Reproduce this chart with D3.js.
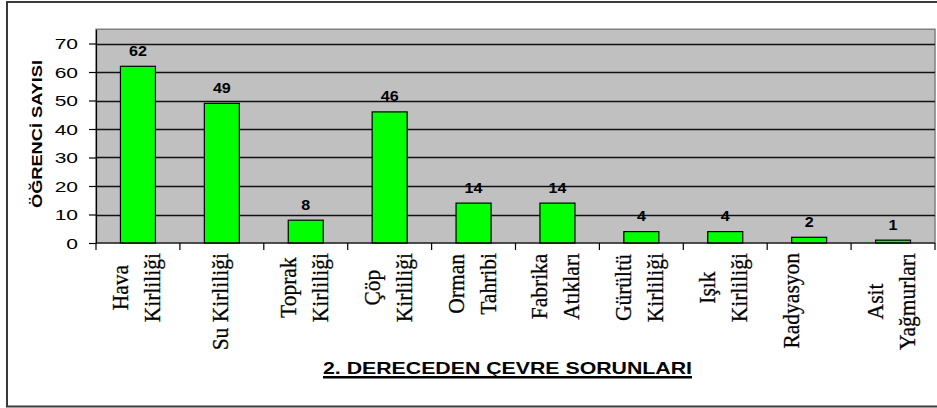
<!DOCTYPE html>
<html>
<head>
<meta charset="utf-8">
<script src="https://cdn.jsdelivr.net/npm/d3@7.9.0/dist/d3.min.js"></script>
<style>
  html, body { margin: 0; padding: 0; background: #fff; }
  svg { display: block; }
</style>
</head>
<body>
<div id="chart"></div>
<script>
// categories (each entry of labelLines is the list of lines of the rotated label)
const categories = ["Hava Kirliliği", "Su Kirliliği", "Toprak Kirliliği", "Çöp Kirliliği", "Orman Tahribi",
    "Fabrika Atıkları", "Gürültü Kirliliği", "Işık Kirliliği", "Radyasyon", "Asit Yağmurları"];
const labelLines = [["Hava", "Kirliliği"], ["Su Kirliliği"], ["Toprak", "Kirliliği"], ["Çöp", "Kirliliği"],
    ["Orman", "Tahribi"], ["Fabrika", "Atıkları"], ["Gürültü", "Kirliliği"], ["Işık", "Kirliliği"],
    ["Radyasyon", ""], ["Asit", "Yağmurları"]];
const values = [62, 49, 8, 46, 14, 14, 4, 4, 2, 1];
const yTicks = [0, 10, 20, 30, 40, 50, 60, 70];
const yTitle = "ÖĞRENCİ SAYISI";
const xTitle = "2. DERECEDEN ÇEVRE SORUNLARI";

const width = 937;
const height = 408;
const plot = { left: 96, right: 935, top: 29.25, bottom: 243 };
const sans = "'Liberation Sans', Arial, sans-serif";
const serif = "'Liberation Serif', 'Times New Roman', serif";

const svg = d3.select("#chart")
    .append("svg")
    .attr("width", width)
    .attr("height", height);

// chart area frame (right side is cut off in the reference)
svg.append("rect")
    .attr("x", 7).attr("y", 2)
    .attr("width", 960).attr("height", 404.5)
    .attr("fill", "#fff")
    .attr("stroke", "#3a3a3a")
    .attr("stroke-width", 2);

// scales
const x = d3.scaleBand()
    .domain(categories)
    .range([plot.left, plot.right])
    .padding(0);

const y = d3.scaleLinear()
    .domain([0, 75])
    .range([plot.bottom, plot.top]);

// plot background
svg.append("rect")
    .attr("x", plot.left).attr("y", plot.top)
    .attr("width", plot.right - plot.left).attr("height", plot.bottom - plot.top)
    .attr("fill", "#c0c0c0")
    .attr("stroke", "#808080")
    .attr("stroke-width", 1.5);

// gridlines
svg.append("g")
    .selectAll("line")
    .data(yTicks.filter(d => d > 0))
    .join("line")
    .attr("x1", plot.left).attr("x2", plot.right)
    .attr("y1", d => Math.round(y(d)) + 0.5)
    .attr("y2", d => Math.round(y(d)) + 0.5)
    .attr("stroke", "#111")
    .attr("stroke-width", 1.3);

// bars
const barW = 35;
svg.append("g")
    .selectAll("rect")
    .data(values)
    .join("rect")
    .attr("x", (d, i) => x(categories[i]) + x.bandwidth() / 2 - barW / 2)
    .attr("y", d => y(d))
    .attr("width", barW)
    .attr("height", d => y(0) - y(d))
    .attr("fill", "#00ff00")
    .attr("stroke", "#000")
    .attr("stroke-width", 1.2);

// value labels
svg.append("g")
    .selectAll("text")
    .data(values)
    .join("text")
    .attr("transform", (d, i) => `translate(${x(categories[i]) + x.bandwidth() / 2},${y(d) - 10.5}) scale(1.15,1)`)
    .attr("text-anchor", "middle")
    .style("font-family", sans)
    .style("font-weight", "bold")
    .style("font-size", "14px")
    .attr("fill", "#000")
    .text(d => d);

// y axis
const yAxis = svg.append("g")
    .attr("transform", `translate(${plot.left},0)`)
    .call(d3.axisLeft(y).tickValues(yTicks).tickSize(7).tickSizeOuter(0));
yAxis.select(".domain").attr("stroke", "#000").attr("stroke-width", 1.2);
yAxis.selectAll(".tick line").attr("stroke", "#000").attr("stroke-width", 1.2);
yAxis.selectAll(".tick text")
    .attr("x", null)
    .attr("dy", "0.36em")
    .attr("transform", "translate(-18,0) scale(1.45,1)")
    .style("font-family", sans)
    .style("font-size", "14.5px")
    .attr("fill", "#000");

// x axis: ticks sit on the category boundaries
const boundaries = categories.map(c => x(c)).concat([plot.right]);
svg.append("line")
    .attr("x1", plot.left).attr("x2", plot.right)
    .attr("y1", y(0)).attr("y2", y(0))
    .attr("stroke", "#000").attr("stroke-width", 1.2);
svg.append("g")
    .selectAll("line")
    .data(boundaries)
    .join("line")
    .attr("x1", d => d).attr("x2", d => d)
    .attr("y1", y(0)).attr("y2", y(0) + 7)
    .attr("stroke", "#000").attr("stroke-width", 1.2);

// rotated category labels
const labelGroup = svg.append("g");
labelLines.forEach((lines, i) => {
    const cx = x(categories[i]) + x.bandwidth() / 2;
    const g = labelGroup.append("g");
    const texts = lines.map(line => g.append("text")
        .attr("text-anchor", "middle")
        .style("font-family", serif)
        .style("font-size", "21.5px")
        .attr("fill", "#000")
        .attr("stroke", "#000")
        .attr("stroke-width", 0.25)
        .text(line));
    const maxLen = d3.max(texts, t => t.node().getComputedTextLength());
    const cy = 253 + maxLen / 2;
    texts.forEach((t, j) => {
        const bx = cx + 6 + (j - (lines.length - 1) / 2) * 32;
        t.attr("transform", `translate(${bx},${cy}) rotate(-90) scale(1,1.12)`);
    });
});

// y axis title
svg.append("text")
    .attr("transform", "translate(42,134) rotate(-90)")
    .attr("text-anchor", "middle")
    .attr("textLength", 148)
    .attr("lengthAdjust", "spacingAndGlyphs")
    .style("font-family", sans)
    .style("font-weight", "bold")
    .style("font-size", "14.5px")
    .attr("fill", "#000")
    .text(yTitle);

// x axis title, underlined
svg.append("text")
    .attr("x", 323)
    .attr("y", 374)
    .attr("textLength", 369)
    .attr("lengthAdjust", "spacingAndGlyphs")
    .style("font-family", sans)
    .style("font-weight", "bold")
    .style("font-size", "16.5px")
    .attr("fill", "#000")
    .text(xTitle);
svg.append("rect")
    .attr("x", 323).attr("y", 376)
    .attr("width", 369).attr("height", 2.5)
    .attr("fill", "#000");
</script>
</body>
</html>
